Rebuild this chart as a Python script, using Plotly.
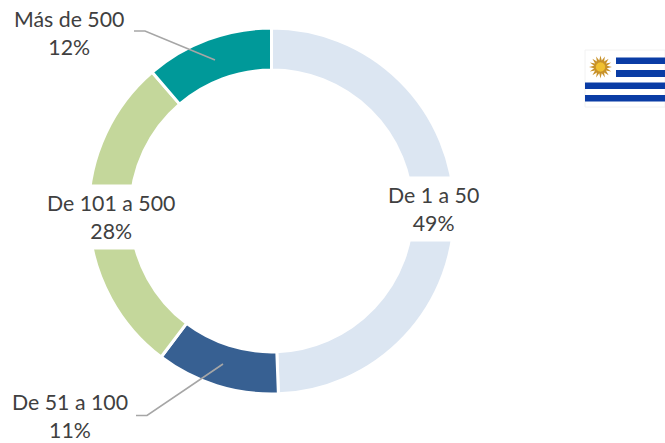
import math
import plotly.graph_objects as go

W, H = 665, 443
categories = ["De 1 a 50", "De 51 a 100", "De 101 a 500", "Más de 500"]
values = [49.4, 10.9, 28.4, 11.3]
percent_labels = ["49%", "11%", "28%", "12%"]
colors = ["#DCE6F2", "#376092", "#C4D79B", "#009999"]
label_centers = [(433, 209), (70, 416), (111, 217), (69, 33)]
leaders = [
    None,
    [(136, 415.5), (147, 415.5), (223, 364)],
    None,
    [(134, 31), (145, 31), (215, 60)],
]

CX, CY, R = 271.5, 211, 183


def px(x):
    return x / W


def py(y):
    return 1 - y / H


fig = go.Figure(
    go.Pie(
        labels=categories,
        values=values,
        sort=False,
        direction="clockwise",
        rotation=0,
        hole=0.77,
        textinfo="none",
        hoverinfo="label+percent",
        marker=dict(colors=colors, line=dict(color="white", width=3)),
        domain=dict(x=[px(CX - R), px(CX + R)], y=[py(CY + R), py(CY - R)]),
        showlegend=False,
    )
)

annotations = []
for name, pct, (x, y) in zip(categories, percent_labels, label_centers):
    annotations.append(
        dict(
            x=px(x), y=py(y), xref="paper", yref="paper",
            xanchor="center", yanchor="middle",
            text=f"{name}<br>{pct}", showarrow=False, align="center",
            font=dict(family="Lato, Carlito, Calibri, sans-serif", size=21.3, color="#404040"),
            bgcolor="white", borderpad=5,
        )
    )

shapes = []
for pts in leaders:
    if pts:
        path = "M " + " L ".join(f"{px(a):.5f} {py(b):.5f}" for a, b in pts)
        shapes.append(dict(type="path", path=path, xref="paper", yref="paper",
                           line=dict(color="#A6A6A6", width=1.6)))

# Flag of Uruguay
BLUE = "#0A3CA5"
shapes.append(dict(type="rect", x0=px(585), x1=px(665), y0=py(50), y1=py(107), xref="paper", yref="paper",
                   fillcolor="white", line=dict(color="#F2F2F2", width=1)))
for x0, y0, y1 in [(616, 57.5, 64), (616, 70, 77), (585, 82.5, 89), (585, 95, 101.5)]:
    shapes.append(dict(type="rect", x0=px(x0), x1=px(665), y0=py(y0), y1=py(y1), xref="paper", yref="paper",
                       fillcolor=BLUE, line=dict(width=0)))
sx, sy = 600.5, 67
star = []
for i in range(32):
    a = i * math.pi / 16
    r = 11.5 if i % 2 == 0 else 6.5
    star.append((sx + r * math.cos(a), sy + r * math.sin(a)))
path = "M " + " L ".join(f"{px(a):.5f} {py(b):.5f}" for a, b in star) + " Z"
shapes.append(dict(type="path", path=path, xref="paper", yref="paper", fillcolor="#C8922A", line=dict(width=0)))
shapes.append(dict(type="circle", x0=px(sx - 5), x1=px(sx + 5), y0=py(sy + 5), y1=py(sy - 5),
                   xref="paper", yref="paper", fillcolor="#F0C030", line=dict(color="#B8862A", width=0.5)))

fig.update_layout(
    width=W, height=H,
    margin=dict(l=0, r=0, t=0, b=0),
    paper_bgcolor="white", plot_bgcolor="white",
    annotations=annotations, shapes=shapes,
)
fig.write_html("out.html", config=dict(displayModeBar=False),
               post_script="document.body.style.margin='0';document.documentElement.style.overflow='hidden';")
